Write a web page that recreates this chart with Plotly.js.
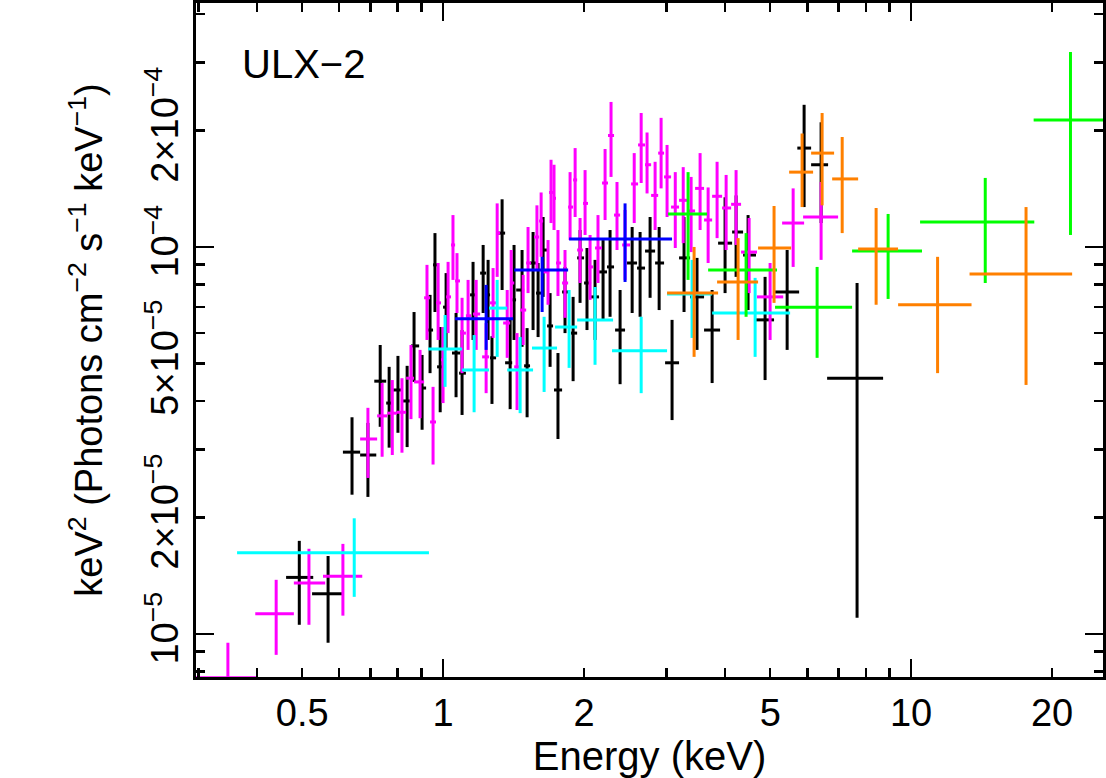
<!DOCTYPE html>
<html>
<head>
<meta charset="utf-8">
<script src="https://cdn.plot.ly/plotly-3.0.1.min.js"></script>
<style>
  html, body { margin: 0; padding: 0; background: #fff; }
  #chart { width: 1106px; height: 778px; }
</style>
</head>
<body>
<div id="chart"></div>
<script>
// Energies in keV (bin centre, low edge, high edge); fluxes in units of 1e-5 (centre, upper, lower)
const blackE   = [0.493,0.568,0.639,0.691,0.734,0.767,0.801,0.838,0.867,0.902,0.938,0.961,0.986,1.015,1.066,1.098,1.159,1.218,1.248,1.272,1.337,1.391,1.418,1.475,1.512,1.557,1.596,1.636,1.693,1.760,1.822,1.896,1.962,2.030,2.112,2.197,2.274,2.389,2.535,2.636,2.769,2.895,3.085,3.272,3.488,3.757,4.004,4.227,4.484,4.875,5.434,5.907,6.422,7.665];
const blackElo = [0.462,0.525,0.611,0.665,0.713,0.756,0.782,0.817,0.854,0.889,0.920,0.952,0.971,1.000,1.045,1.082,1.142,1.200,1.236,1.260,1.298,1.357,1.405,1.433,1.490,1.534,1.580,1.620,1.668,1.726,1.796,1.877,1.934,2.001,2.071,2.154,2.240,2.331,2.472,2.597,2.701,2.838,2.981,3.193,3.371,3.611,3.869,4.145,4.375,4.662,5.120,5.713,6.114,6.615];
const blackEhi = [0.528,0.614,0.665,0.720,0.756,0.782,0.817,0.854,0.889,0.920,0.952,0.976,1.000,1.030,1.087,1.119,1.177,1.236,1.260,1.298,1.357,1.405,1.432,1.490,1.534,1.580,1.620,1.668,1.718,1.796,1.850,1.934,2.001,2.071,2.154,2.240,2.319,2.448,2.597,2.701,2.838,2.966,3.193,3.371,3.611,3.907,4.145,4.375,4.662,5.095,5.764,6.114,6.647,8.712];
const blackF   = [1.40,1.27,2.95,2.90,4.50,3.95,4.27,4.00,5.55,4.32,6.10,8.99,4.90,6.99,5.32,4.72,7.52,8.56,7.52,5.17,10.86,5.02,7.30,7.74,4.93,9.09,7.60,9.82,6.25,4.27,7.65,5.99,9.37,8.07,7.43,8.62,8.88,6.10,9.09,8.82,9.76,9.09,5.02,9.37,7.43,6.10,10.23,10.93,9.53,6.48,7.65,18.01,16.31,4.58];
const blackFhi = [1.74,1.59,3.63,3.51,5.58,4.90,5.23,4.93,6.79,5.26,7.52,10.86,6.21,8.56,6.75,6.10,9.15,10.12,9.26,5.88,13.28,6.48,10.12,9.82,6.17,10.93,9.09,11.95,7.60,5.32,8.88,7.43,11.06,9.94,9.26,10.42,11.06,7.74,11.26,10.93,11.95,11.26,6.48,11.95,9.37,7.74,13.44,13.59,12.09,8.37,9.82,23.3,21.0,8.07];
const blackFlo = [1.056,0.949,2.29,2.26,3.43,3.03,3.31,3.04,4.48,3.37,4.72,6.79,3.74,5.48,4.09,3.68,5.75,6.75,5.75,3.93,7.74,3.81,5.75,5.52,3.63,6.10,5.85,7.43,4.90,3.19,5.99,4.50,7.17,6.10,5.75,6.48,6.60,4.42,6.75,6.60,7.39,6.87,3.57,6.79,5.42,4.45,7.60,8.37,6.87,4.53,5.42,12.68,11.53,1.101];

const magentaE   = [0.347,0.440,0.517,0.611,0.691,0.741,0.779,0.817,0.854,0.893,0.924,0.952,0.976,1.000,1.025,1.050,1.071,1.098,1.131,1.177,1.236,1.279,1.305,1.371,1.398,1.439,1.483,1.519,1.587,1.620,1.676,1.701,1.726,1.760,1.822,1.868,1.915,1.962,2.011,2.061,2.143,2.219,2.285,2.353,2.448,2.561,2.650,2.728,2.838,2.923,3.010,3.134,3.259,3.388,3.541,3.684,3.850,4.025,4.227,4.507,4.997,5.597,6.422];
const magentaElo = [0.296,0.397,0.480,0.554,0.665,0.723,0.760,0.797,0.834,0.867,0.911,0.938,0.966,0.990,1.015,1.040,1.061,1.087,1.119,1.159,1.212,1.260,1.298,1.344,1.391,1.419,1.461,1.505,1.564,1.604,1.636,1.685,1.718,1.743,1.796,1.850,1.896,1.934,1.991,2.040,2.112,2.186,2.251,2.319,2.413,2.522,2.610,2.701,2.783,2.881,2.966,3.070,3.193,3.322,3.455,3.611,3.757,3.946,4.125,4.332,4.685,5.301,5.878];
const magentaEhi = [0.399,0.480,0.560,0.672,0.723,0.760,0.797,0.834,0.867,0.911,0.938,0.966,0.990,1.015,1.040,1.061,1.087,1.119,1.148,1.200,1.254,1.298,1.324,1.391,1.419,1.461,1.505,1.542,1.604,1.636,1.685,1.718,1.743,1.787,1.850,1.896,1.934,1.991,2.040,2.091,2.186,2.251,2.319,2.389,2.510,2.610,2.701,2.783,2.881,2.966,3.070,3.193,3.322,3.455,3.611,3.757,3.946,4.125,4.332,4.685,5.330,5.907,6.982];
const magentaF   = [0.77,1.128,1.355,1.409,3.19,3.66,3.72,3.74,4.58,4.48,7.39,3.53,7.17,5.11,7.43,10.12,8.17,5.99,6.64,6.71,5.20,7.17,10.86,6.36,8.07,4.90,6.87,9.09,10.61,11.67,8.62,13.83,13.36,9.09,8.07,12.68,14.9,9.82,12.96,8.88,9.94,14.63,19.41,12.09,10.12,14.55,18.35,16.31,13.59,17.48,15.17,12.68,13.2,12.39,14.17,11.74,13.52,12.61,12.89,9.70,7.43,11.53,11.95];
const magentaFhi = [0.949,1.38,1.66,1.709,3.84,4.45,4.53,4.58,5.58,5.42,8.99,4.35,9.09,6.21,9.15,12.09,9.64,7.39,8.22,8.22,6.36,8.82,12.96,7.74,9.82,5.99,8.47,11.26,12.81,13.83,10.42,16.8,16.31,11.06,9.82,15.61,18.01,11.88,15.8,10.74,12.09,17.91,23.7,14.72,12.46,17.48,22.19,19.76,16.60,21.56,18.35,15.61,16.08,15.17,17.48,14.25,16.60,15.35,15.8,11.88,9.09,14.17,14.72];
const magentaFlo = [0.60,0.883,1.056,1.115,2.53,2.87,2.90,2.94,3.59,3.61,5.75,2.74,5.75,3.95,5.99,8.22,6.75,4.72,5.42,5.42,4.19,5.82,8.37,5.17,6.56,3.79,5.58,7.60,8.72,9.43,7.09,11.53,11.06,7.47,6.56,10.42,11.95,8.07,10.74,7.30,8.07,11.74,15.17,9.82,8.22,11.53,14.63,13.75,11.06,14.17,11.95,9.94,10.23,9.70,11.06,9.09,10.54,9.82,10.12,7.60,5.75,8.88,9.26];

const cyanE   = [0.646,1.010,1.165,1.305,1.461,1.644,1.859,2.112,2.650,3.404,4.642];
const cyanElo = [0.363,0.929,1.098,1.254,1.371,1.549,1.735,1.934,2.296,3.010,3.757];
const cyanEhi = [0.933,1.098,1.254,1.371,1.557,1.752,1.934,2.308,3.010,3.757,5.514];
const cyanF   = [1.62,5.45,4.81,6.95,4.81,5.48,6.21,6.48,5.39,7.56,6.75];
const cyanFhi = [1.99,6.67,5.92,8.22,5.85,6.60,7.74,7.88,6.60,9.26,8.32];
const cyanFlo = [1.247,4.35,3.74,5.20,3.72,4.22,4.87,4.96,4.19,5.82,5.20];

const blueE   = [1.236,1.628,2.448];
const blueElo = [1.061,1.419,1.859];
const blueEhi = [1.412,1.850,3.085];
const blueF   = [6.52,8.72,10.48];
const blueFhi = [7.98,9.43,12.96];
const blueFlo = [5.42,6.79,8.12];

const greenE   = [3.338,4.440,6.297,8.93,14.4,21.9];
const greenElo = [3.025,3.684,5.120,7.480,10.45,18.27];
const greenEhi = [3.665,5.170,7.480,10.55,18.33,27.0];
const greenF   = [12.17,8.72,6.99,9.76,11.60,21.3];
const greenFhi = [15.61,10.86,8.88,12.17,15.08,31.9];
const greenFlo = [8.22,6.60,5.17,7.34,8.07,10.74];

const orangeE   = [3.438,4.269,5.095,5.849,6.454,7.124,8.418,11.39,17.6];
const orangeElo = [3.010,3.850,4.710,5.487,6.114,6.781,7.705,9.38,13.33];
const orangeEhi = [3.869,4.710,5.541,6.174,6.846,7.705,9.376,13.46,22.08];
const orangeF   = [7.60,8.12,9.94,15.61,17.48,14.99,9.88,7.09,8.52];
const orangeFhi = [10.0,10.54,12.76,19.64,22.19,19.24,12.61,9.43,12.68];
const orangeFlo = [5.20,5.75,7.17,12.68,12.81,10.86,7.09,4.72,4.40];

const fluxUnit = 1e-5;
const xTickVals = [0.5, 1, 2, 5, 10, 20];
const xTickText = ['0.5', '1', '2', '5', '10', '20'];
const xMinorVals = [0.3, 0.4, 0.6, 0.7, 0.8, 0.9, 3, 4, 6, 7, 8, 9];
const yTickVals = [1e-5, 2e-5, 5e-5, 1e-4, 2e-4];
const yTickText = ['10<sup>−5</sup>', '2×10<sup>−5</sup>', '5×10<sup>−5</sup>', '10<sup>−4</sup>', '2×10<sup>−4</sup>'];
const yMinorVals = [8e-6, 9e-6, 3e-5, 4e-5, 6e-5, 7e-5, 8e-5, 9e-5, 3e-4, 4e-4];

function makeTrace(E, Elo, Ehi, F, Fhi, Flo, color, name) {
  return {
    type: 'scatter', mode: 'markers', name: name,
    x: E, y: F.map(v => v * fluxUnit),
    marker: { size: 1, color: 'rgba(0,0,0,0)' },
    error_x: { type: 'data', symmetric: false,
      array: E.map((v, i) => Ehi[i] - v), arrayminus: E.map((v, i) => v - Elo[i]),
      color: color, thickness: 3, width: 0 },
    error_y: { type: 'data', symmetric: false,
      array: F.map((v, i) => (Fhi[i] - v) * fluxUnit), arrayminus: F.map((v, i) => (v - Flo[i]) * fluxUnit),
      color: color, thickness: 3, width: 0 },
    hoverinfo: 'x+y', showlegend: false
  };
}

const data = [
  makeTrace(blackE, blackElo, blackEhi, blackF, blackFhi, blackFlo, '#000000', 'black'),
  makeTrace(magentaE, magentaElo, magentaEhi, magentaF, magentaFhi, magentaFlo, '#ff00ff', 'magenta'),
  makeTrace(cyanE, cyanElo, cyanEhi, cyanF, cyanFhi, cyanFlo, '#00ffff', 'cyan'),
  makeTrace(blueE, blueElo, blueEhi, blueF, blueFhi, blueFlo, '#0000ff', 'blue'),
  makeTrace(greenE, greenElo, greenEhi, greenF, greenFhi, greenFlo, '#00ff00', 'green'),
  makeTrace(orangeE, orangeElo, orangeEhi, orangeF, orangeFhi, orangeFlo, '#ff8000', 'orange')
];

const FONT = '"Liberation Sans", Arial, Helvetica, sans-serif';
const xRange = [Math.log10(0.2966), Math.log10(25.7)];
const yRange = [Math.log10(7.74e-6), Math.log10(4.27e-4)];

const layout = {
  width: 1106, height: 778,
  margin: { l: 196, r: 3, t: 3, b: 101 },
  paper_bgcolor: '#ffffff', plot_bgcolor: '#ffffff',
  font: { family: FONT, size: 38, color: '#000000' },
  showlegend: false,
  xaxis: {
    type: 'log', range: xRange, autorange: false,
    showline: true, linecolor: '#000', linewidth: 3, mirror: 'allticks',
    showgrid: false, zeroline: false,
    tickmode: 'array', tickvals: xTickVals, ticktext: xTickText,
    ticks: 'inside', ticklen: 9, tickwidth: 2.5, tickcolor: '#000',
    tickfont: { family: FONT, size: 38, color: '#000' },
    minor: { tickmode: 'array', tickvals: xMinorVals, ticks: 'inside', ticklen: 9, tickwidth: 2.5, tickcolor: '#000', showgrid: false },
    title: { text: 'Energy (keV)', font: { family: FONT, size: 40, color: '#000' }, standoff: 8 },
    automargin: false
  },
  xaxis2: {
    type: 'log', overlaying: 'x', matches: 'x', anchor: 'y', side: 'bottom',
    range: xRange, autorange: false,
    showline: false, showgrid: false, zeroline: false, mirror: 'ticks',
    tickmode: 'array', tickvals: [1, 10], ticks: 'inside', ticklen: 18, tickwidth: 2.5, tickcolor: '#000',
    showticklabels: false
  },
  yaxis: {
    type: 'log', range: yRange, autorange: false,
    showline: true, linecolor: '#000', linewidth: 3, mirror: 'allticks',
    showgrid: false, zeroline: false,
    tickmode: 'array', tickvals: yTickVals, ticktext: yTickText, tickangle: -90,
    ticks: 'inside', ticklen: 9, tickwidth: 2.5, tickcolor: '#000',
    tickfont: { family: FONT, size: 38, color: '#000' },
    minor: { tickmode: 'array', tickvals: yMinorVals, ticks: 'inside', ticklen: 9, tickwidth: 2.5, tickcolor: '#000', showgrid: false },
    title: { text: 'keV<sup>2</sup> (Photons cm<sup>−2</sup> s<sup>−1</sup> keV<sup>−1</sup>)', font: { family: FONT, size: 38, color: '#000' }, standoff: 24 },
    automargin: false
  },
  yaxis2: {
    type: 'log', overlaying: 'y', matches: 'y', anchor: 'x', side: 'left',
    range: yRange, autorange: false,
    showline: false, showgrid: false, zeroline: false, mirror: 'ticks',
    tickmode: 'array', tickvals: [1e-5, 1e-4], ticks: 'inside', ticklen: 18, tickwidth: 2.5, tickcolor: '#000',
    showticklabels: false
  },
  annotations: [{
    text: 'ULX−2', xref: 'paper', yref: 'paper', x: 0.0485, y: 0.909,
    xanchor: 'left', yanchor: 'middle', showarrow: false,
    font: { family: FONT, size: 40, color: '#000' }
  }]
};

// dummy trace to activate overlay axes (no visible marks)
data.push({ type: 'scatter', mode: 'markers', x: [1], y: [1e-4], xaxis: 'x2', yaxis: 'y2',
  marker: { size: 1, color: 'rgba(0,0,0,0)' }, hoverinfo: 'skip', showlegend: false });

Plotly.newPlot('chart', data, layout, { displayModeBar: false, staticPlot: true });
</script>
</body>
</html>
